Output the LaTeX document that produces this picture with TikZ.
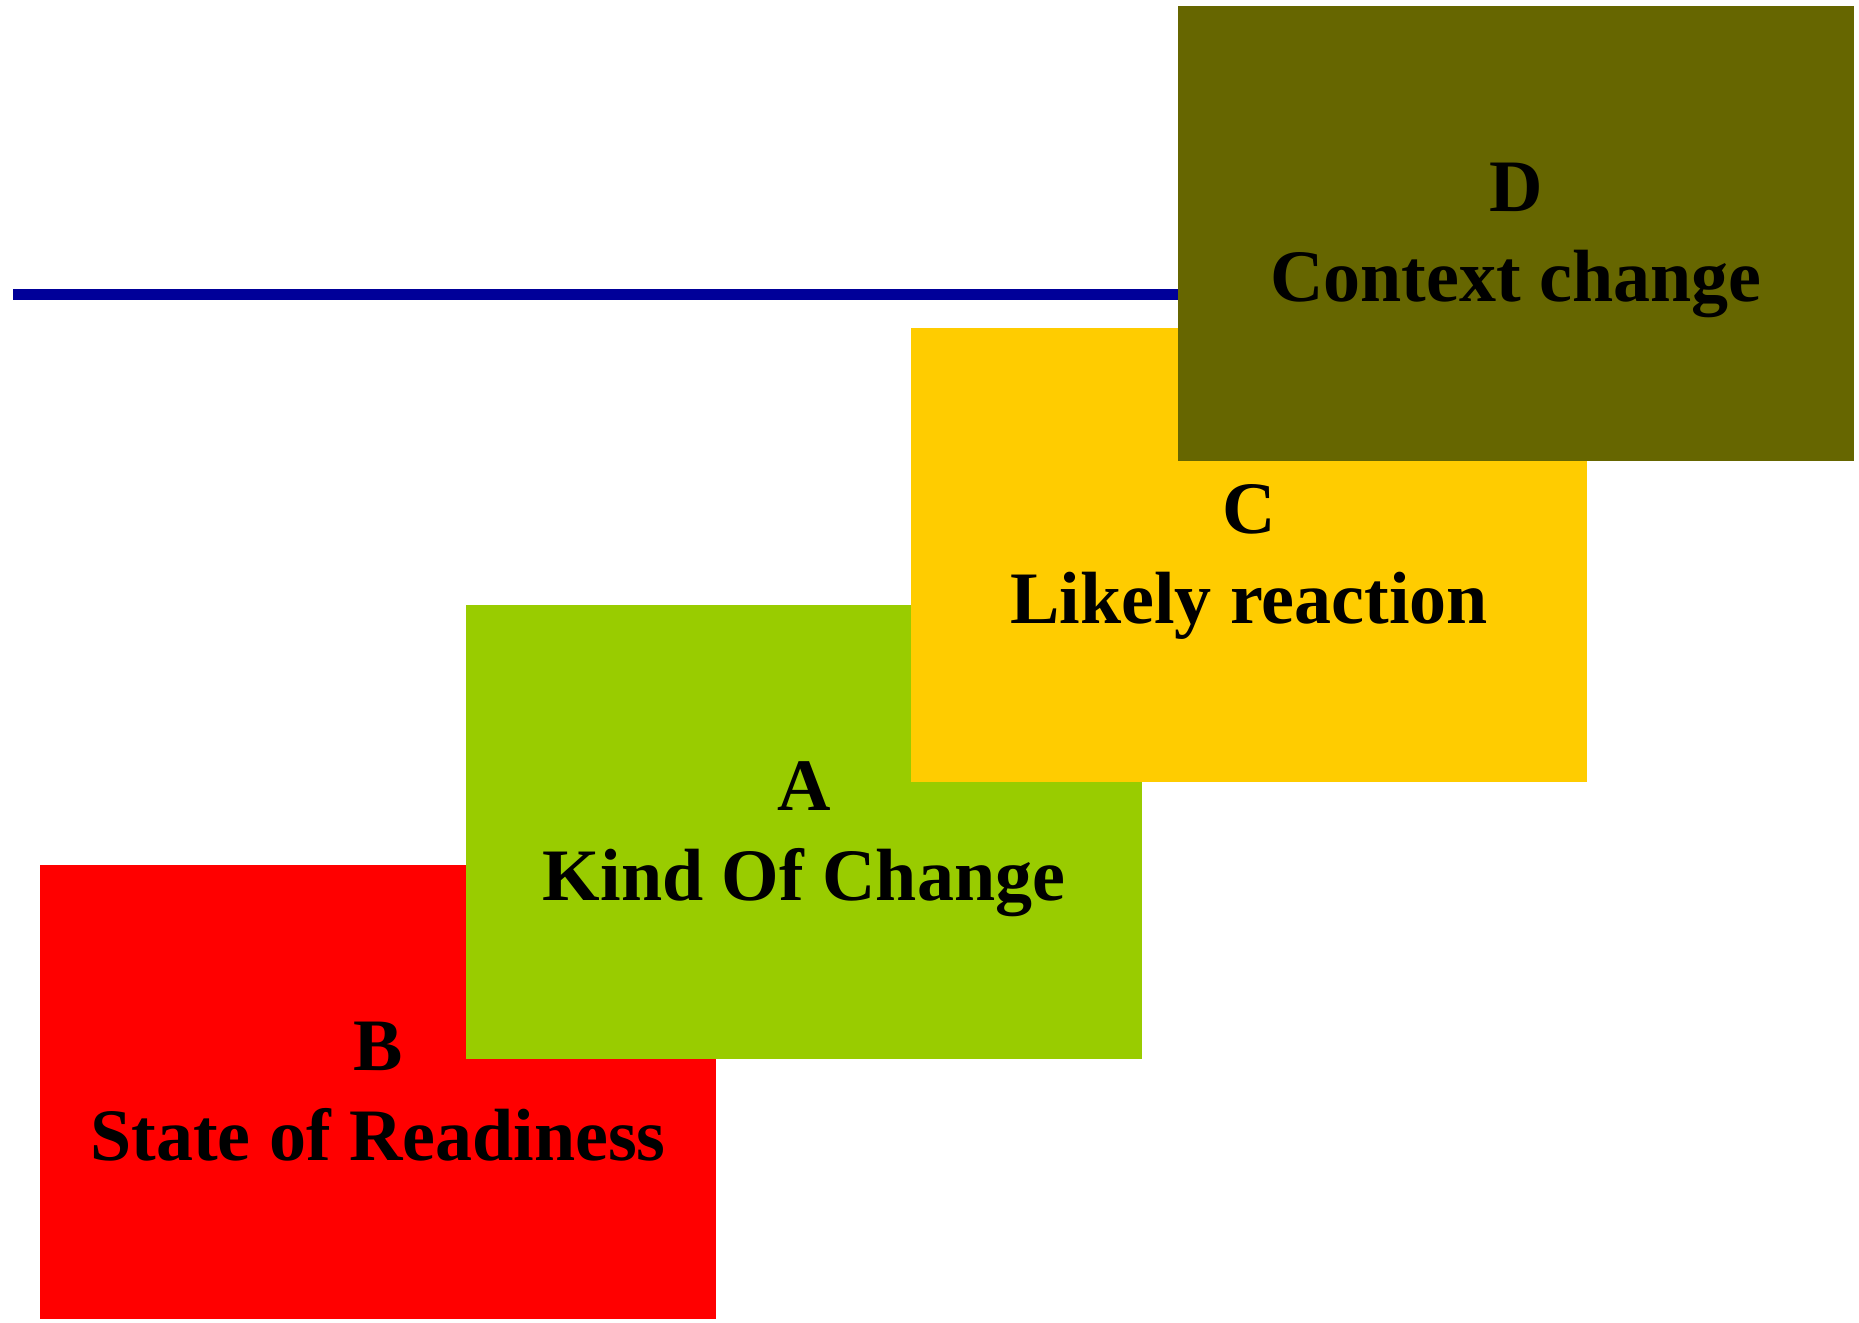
\documentclass[tikz,border=0pt]{standalone}
\usepackage{fontspec}
\setmainfont{Liberation Serif}
\definecolor{stepred}{HTML}{FF0000}
\definecolor{stepgreen}{HTML}{99CC00}
\definecolor{stepyellow}{HTML}{FFCC00}
\definecolor{stepolive}{HTML}{666600}
\definecolor{rulenavy}{HTML}{000099}
\begin{document}
\begin{tikzpicture}[x=1pt,y=-1pt,
  stepbox/.style={draw=none,minimum width=676pt,minimum height=454pt,inner sep=0pt,outer sep=0pt},
  steptext/.style={anchor=base,inner sep=0pt,font=\fontsize{74}{90}\selectfont\bfseries,text=black}]
  \useasboundingbox (0,0) rectangle (1859,1322);
  % staircase of blocks, each one overlapping the previous
  \node[stepbox,fill=stepred]    (b) at (378,1092) {};
  \node[steptext] (bt1) at ([yshift=-205pt]b.north) {B};
  \node[steptext] (bt2) at ([yshift=-295pt]b.north) {State of Readiness};
  \node[stepbox,fill=stepgreen]  (a) at (804,832) {};
  \node[steptext] (at1) at ([yshift=-205pt]a.north) {A};
  \node[steptext] (at2) at ([yshift=-295pt]a.north) {Kind Of Change};
  \node[stepbox,fill=stepyellow] (c) at (1249,555) {};
  \node[steptext] (ct1) at ([yshift=-205pt]c.north) {C};
  \node[steptext] (ct2) at ([yshift=-295pt]c.north) {Likely reaction};
  % horizontal rule running behind the top block
  \coordinate (ls) at (13,294.5);
  \coordinate (le) at (1180,294.5);
  \draw[rulenavy,line width=11pt] (ls) -- (le);
  \node[stepbox,fill=stepolive]  (d) at (1516,233.5) {};
  \node[steptext] (dt1) at ([yshift=-205pt]d.north) {D};
  \node[steptext] (dt2) at ([yshift=-295pt]d.north) {Context change};
\end{tikzpicture}
\end{document}
